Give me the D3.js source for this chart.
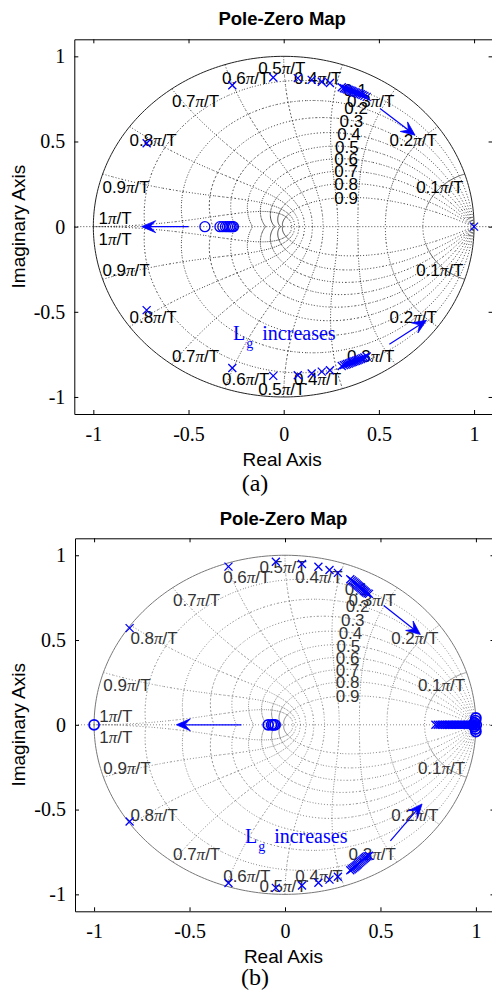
<!DOCTYPE html>
<html>
<head>
<meta charset="utf-8">
<script src="https://cdn.jsdelivr.net/npm/d3@7"></script>
<style>
  body { margin: 0; background: #fff; }
  svg { display: block; }
</style>
</head>
<body>
<svg id="fig" width="492" height="993"></svg>
<script>
// ---- values ----
const xTicks = [-1, -0.5, 0, 0.5, 1];
const yTicks = [-1, -0.5, 0, 0.5, 1];

// zgrid: natural frequency (x pi/T) and damping ratio lines
const wnSteps = [0.1, 0.2, 0.3, 0.4, 0.5, 0.6, 0.7, 0.8, 0.9, 1];
const zetaSteps = [0.1, 0.2, 0.3, 0.4, 0.5, 0.6, 0.7, 0.8, 0.9];
// label anchors (upper half, mirrored for the lower half)
const wnLabelX = [0.82, 0.68, 0.457, 0.178, -0.01, -0.2, -0.463, -0.686, -0.828, -0.886];
const wnLabelY = [0.243, 0.522, 0.75, 0.882, 0.94, 0.882, 0.75, 0.522, 0.243, 0.06];
const zetaLabelX = [0.375, 0.38, 0.355, 0.343, 0.332, 0.328, 0.328, 0.328, 0.328];
const zetaLabelY = [0.80, 0.695, 0.616, 0.54, 0.462, 0.392, 0.321, 0.247, 0.166];

// (a) poles: upper half of conjugate pairs (re, im)
const polesA = [
  [-0.72, 0.49], [-0.27, 0.83], [-0.055, 0.876], [0.074, 0.872], [0.147, 0.862],
  [0.2, 0.851], [0.243, 0.843],
  [0.305, 0.818], [0.316, 0.813], [0.325, 0.81], [0.333, 0.806], [0.342, 0.803],
  [0.35, 0.8], [0.357, 0.796], [0.364, 0.793], [0.372, 0.79], [0.38, 0.787],
  [0.388, 0.784], [0.396, 0.78], [0.405, 0.777], [0.414, 0.773], [0.424, 0.768], [0.436, 0.762]
];
const realPolesA = [1];
const zerosA = [-0.414, -0.335, -0.32, -0.306, -0.295, -0.285, -0.277, -0.27, -0.264];
const arrowsA = [[-0.5, 0, -0.746, 0], [0.506, 0.694, 0.69, 0.537], [0.555, -0.69, 0.75, -0.55]];
const noteA = [-0.266, -0.666];

// (b)
const polesB = [
  [-0.814, 0.57], [-0.296, 0.933], [-0.048, 0.962], [0.089, 0.948], [0.175, 0.932],
  [0.233, 0.913], [0.277, 0.896],
  [0.342, 0.858], [0.35, 0.852], [0.357, 0.846], [0.364, 0.84], [0.37, 0.834],
  [0.376, 0.828], [0.382, 0.822], [0.388, 0.816], [0.394, 0.81], [0.4, 0.804],
  [0.406, 0.798], [0.412, 0.792], [0.418, 0.786], [0.424, 0.78], [0.432, 0.775], [0.44, 0.772]
];
const realPolesB = [0.788, 0.8, 0.81, 0.82, 0.83, 0.84, 0.85, 0.858, 0.866, 0.874, 0.882, 0.89,
  0.898, 0.906, 0.914, 0.922, 0.93, 0.938, 0.946, 0.954, 0.962, 0.97, 0.978, 0.986, 0.994];
const zerosB = [[-1, 0], [-0.088, 0], [-0.07, 0], [-0.061, 0], [-0.052, 0],
  [0.985, 0], [0.992, 0.012], [0.992, -0.012], [0.998, 0.025], [0.998, -0.025],
  [1.0, 0.04], [1.0, -0.04], [1.002, 0]];
const arrowsB = [[-0.228, 0, -0.569, 0], [0.517, 0.704, 0.709, 0.533], [0.552, -0.684, 0.718, -0.467]];
const noteB = [-0.21, -0.699];

const panels = [
  { x0: 74.3, x1: 493.1, yTop: 39.3, yBot: 414, titleY: 25, capY: 491, cap: "(a)",
    poles: polesA, realPoles: realPolesA, zeros: zerosA.map(v => [v, 0]), arrows: arrowsA, note: noteA,
    grid: "#1a1a1a", circle: "#222", lab: "#000", zeroW: 1.3 },
  { x0: 75, x1: 495, yTop: 538.3, yBot: 911.3, titleY: 525, capY: 985, cap: "(b)",
    poles: polesB, realPoles: realPolesB, zeros: zerosB, arrows: arrowsB, note: noteB,
    grid: "#6e6e6e", circle: "#777", lab: "#333", zeroW: 1.8 }
];

const BLUE = "#0000ff";
const SANS = "'Liberation Sans', Arial, sans-serif";
const SERIF = "'Liberation Serif', 'Times New Roman', serif";
const svg = d3.select("#fig");

panels.forEach((p, i) => {
  const g = svg.append("g");
  const x = d3.scaleLinear().domain([-1.1, 1.1]).range([p.x0, p.x1]);
  const y = d3.scaleLinear().domain([-1.1, 1.1]).range([p.yBot, p.yTop]);
  const line = d3.line().x(d => x(d[0])).y(d => y(d[1]));
  // one subpath per segment: the dot pattern restarts on every segment,
  // so tightly sampled parts near the origin look solid, as in the original
  const segPath = pts => pts.slice(1).map((d, j) =>
    `M${x(pts[j][0])},${y(pts[j][1])}L${x(d[0])},${y(d[1])}`).join("");

  const clipId = "clip" + i;
  g.append("clipPath").attr("id", clipId).append("rect")
    .attr("x", p.x0).attr("y", p.yTop).attr("width", p.x1 - p.x0).attr("height", p.yBot - p.yTop);
  const plot = g.append("g").attr("clip-path", `url(#${clipId})`);

  // --- zgrid ---
  const dotted = sel => sel.attr("fill", "none").attr("stroke", p.grid)
    .attr("stroke-width", 0.8).attr("stroke-dasharray", "1,2");

  // natural frequency curves
  wnSteps.forEach(k => {
    const w = k * Math.PI;
    const pts = d3.range(0, 1.0001, 0.02).map(z => {
      const r = Math.exp(-z * w), a = w * Math.sqrt(Math.max(0, 1 - z * z));
      return [r * Math.cos(a), r * Math.sin(a)];
    });
    [1, -1].forEach(s => plot.append("path").attr("d", segPath(pts.map(d => [d[0], s * d[1]]))).call(dotted));
  });
  // damping spirals
  zetaSteps.forEach(z => {
    const m = z / Math.sqrt(1 - z * z);
    const pts = d3.range(0, Math.PI + 1e-9, Math.PI / 60).map(t => {
      const r = Math.exp(-m * t);
      return [r * Math.cos(t), r * Math.sin(t)];
    });
    [1, -1].forEach(s => plot.append("path").attr("d", segPath(pts.map(d => [d[0], s * d[1]]))).call(dotted));
  });
  // real axis line
  plot.append("path").attr("d", line([[-1.1, 0], [1.1, 0]])).call(dotted);
  // unit circle
  const circ = d3.range(0, 2 * Math.PI + 0.001, Math.PI / 180).map(t => [Math.cos(t), Math.sin(t)]);
  plot.append("path").attr("d", line(circ)).attr("fill", "none")
    .attr("stroke", p.circle).attr("stroke-width", 1);

  // grid labels
  const labG = plot.append("g").attr("font-family", SANS).attr("font-size", 17)
    .attr("fill", p.lab).attr("text-anchor", "middle").attr("dominant-baseline", "central");
  wnSteps.forEach((k, j) => {
    [1, -1].forEach(s => {
      const t = labG.append("text").attr("x", x(wnLabelX[j])).attr("y", y(s * wnLabelY[j] - 0.011));
      t.append("tspan").text(String(k));
      t.append("tspan").attr("font-family", SERIF).attr("font-style", "italic").text("π");
      t.append("tspan").text("/T");
    });
  });
  zetaSteps.forEach((z, j) => {
    labG.append("text").attr("x", x(zetaLabelX[j])).attr("y", y(zetaLabelY[j]))
      .text(String(z));
  });

  // --- poles / zeros ---
  const allPoles = p.poles.concat(p.poles.map(d => [d[0], -d[1]]))
    .concat(p.realPoles.map(v => [v, 0]));
  plot.append("g").selectAll("path").data(allPoles).join("path")
    .attr("transform", d => `translate(${x(d[0])},${y(d[1])})`)
    .attr("d", "M-4,-4L4,4M-4,4L4,-4")
    .attr("stroke", BLUE).attr("stroke-width", 1.3).attr("fill", "none");
  plot.append("g").selectAll("circle").data(p.zeros).join("circle")
    .attr("cx", d => x(d[0])).attr("cy", d => y(d[1])).attr("r", 5)
    .attr("stroke", BLUE).attr("stroke-width", p.zeroW).attr("fill", "none");

  // arrows
  p.arrows.forEach(a => {
    const x1 = x(a[0]), y1 = y(a[1]), x2 = x(a[2]), y2 = y(a[3]);
    const ang = Math.atan2(y2 - y1, x2 - x1);
    const L = 14, Wd = 6;
    const ux = Math.cos(ang), uy = Math.sin(ang), px = -uy, py = ux;
    plot.append("line").attr("x1", x1).attr("y1", y1).attr("x2", x2 - ux * 8).attr("y2", y2 - uy * 8)
      .attr("stroke", BLUE).attr("stroke-width", 1.2);
    const head = [
      [x2, y2],
      [x2 - ux * L + px * Wd, y2 - uy * L + py * Wd],
      [x2 - ux * L * 0.6, y2 - uy * L * 0.6],
      [x2 - ux * L - px * Wd, y2 - uy * L - py * Wd]
    ];
    plot.append("path").attr("d", "M" + head.join("L") + "Z").attr("fill", BLUE).attr("stroke", BLUE)
      .attr("stroke-width", 0.8).attr("stroke-linejoin", "miter");
  });

  // L_g increases
  const note = plot.append("text").attr("x", x(p.note[0])).attr("y", y(p.note[1]))
    .attr("font-family", SERIF).attr("font-size", 20).attr("fill", BLUE);
  note.append("tspan").text("L");
  note.append("tspan").attr("font-size", 14).attr("dy", 8).attr("dx", 1).text("g");
  note.append("tspan").attr("dy", -8).attr("dx", 9).text("increases");

  // --- axes (box with inward ticks) ---
  const styleAxis = ax => {
    ax.select(".domain").attr("stroke", "#000").attr("stroke-width", 1);
    ax.selectAll(".tick line").attr("stroke", "#000");
    ax.selectAll("text").attr("font-family", SERIF).attr("font-size", 20).attr("fill", "#000");
  };
  g.append("g").attr("transform", `translate(0,${p.yBot})`)
    .call(d3.axisBottom(x).tickValues(xTicks).tickSizeInner(-4).tickSizeOuter(0).tickPadding(13).tickFormat(d => String(d)))
    .call(styleAxis);
  g.append("g").attr("transform", `translate(${p.x0},0)`)
    .call(d3.axisLeft(y).tickValues(yTicks).tickSizeInner(-4).tickSizeOuter(0).tickPadding(9).tickFormat(d => String(d)))
    .call(styleAxis);
  g.append("g").attr("transform", `translate(0,${p.yTop})`)
    .call(d3.axisTop(x).tickValues(xTicks).tickSizeInner(-4).tickSizeOuter(0).tickFormat(""))
    .call(styleAxis);
  g.append("g").attr("transform", `translate(${p.x1 - 0.5},0)`)
    .call(d3.axisRight(y).tickValues(yTicks).tickSizeInner(-4).tickSizeOuter(0).tickFormat(""))
    .call(styleAxis);

  // titles and labels
  const xc = x(0) - 1.5;
  g.append("text").attr("x", xc).attr("y", p.titleY).attr("text-anchor", "middle")
    .attr("font-family", SANS).attr("font-weight", "bold").attr("font-size", 18.5).text("Pole-Zero Map");
  g.append("text").attr("x", xc).attr("y", p.yBot + 52).attr("text-anchor", "middle")
    .attr("font-family", SANS).attr("font-size", 19).text("Real Axis");
  g.append("text").attr("transform", `translate(25,${y(0)}) rotate(-90)`).attr("text-anchor", "middle")
    .attr("font-family", SANS).attr("font-size", 19).text("Imaginary Axis");
  g.append("text").attr("x", 255).attr("y", p.capY).attr("text-anchor", "middle")
    .attr("font-family", SERIF).attr("font-size", 24).text(p.cap);
});
</script>
</body>
</html>
